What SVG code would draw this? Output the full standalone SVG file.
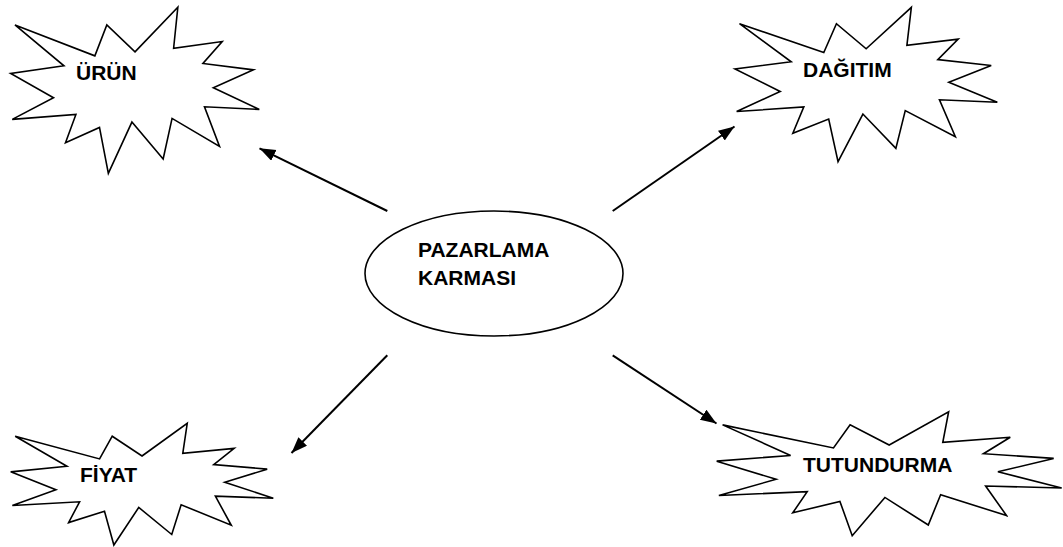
<svg xmlns="http://www.w3.org/2000/svg" width="1063" height="547" viewBox="0 0 1063 547">
<style>
.seal{fill:#fff;stroke:#000;stroke-width:1.6;stroke-linejoin:miter;vector-effect:non-scaling-stroke}
.ell{fill:#fff;stroke:#000;stroke-width:1.6}
.lbl{font-family:"Liberation Sans",Arial,sans-serif;font-weight:bold;font-size:21px;fill:#000}
.conn{stroke:#000;stroke-width:2;fill:none;marker-end:url(#arr)}
</style>
<defs>
<marker id="arr" markerUnits="userSpaceOnUse" markerWidth="17" markerHeight="13" refX="16" refY="6" orient="auto">
<path d="M0,0 L16,6 L0,12 z" fill="#000"/>
</marker>
</defs>
<rect width="1063" height="547" fill="#fff"/>
<g id="urun">
<polygon class="seal" transform="translate(10.7,7.3) scale(0.011509,0.0076852)" points="10800,5800 14522,0 14155,5325 18380,4457 16702,7315 21097,8137 17607,10475 21600,13290 16837,12942 18145,18095 14020,14457 13247,19737 10532,14935 8485,21600 7715,15627 4762,17617 5667,13937 135,14587 3722,11775 0,8615 4627,7617 370,2295 7312,6320 8352,2295"/>
<text class="lbl" x="76" y="80">ÜRÜN</text>
</g>
<g id="dagitim">
<polygon class="seal" transform="translate(735,7.3) scale(0.012144,0.0071481)" points="10800,5800 14522,0 14155,5325 18380,4457 16702,7315 21097,8137 17607,10475 21600,13290 16837,12942 18145,18095 14020,14457 13247,19737 10532,14935 8485,21600 7715,15627 4762,17617 5667,13937 135,14587 3722,11775 0,8615 4627,7617 370,2295 7312,6320 8352,2295"/>
<text class="lbl" x="803" y="77">DAĞITIM</text>
</g>
<g id="fiyat">
<polygon class="seal" transform="translate(10.7,423.3) scale(0.012157,0.0056343)" points="10800,5800 14522,0 14155,5325 18380,4457 16702,7315 21097,8137 17607,10475 21600,13290 16837,12942 18145,18095 14020,14457 13247,19737 10532,14935 8485,21600 7715,15627 4762,17617 5667,13937 135,14587 3722,11775 0,8615 4627,7617 370,2295 7312,6320 8352,2295"/>
<text class="lbl" x="80" y="482">FİYAT</text>
</g>
<g id="tutundurma">
<polygon class="seal" transform="translate(716.7,411.7) scale(0.015972,0.0057407)" points="10800,5800 14522,0 14155,5325 18380,4457 16702,7315 21097,8137 17607,10475 21600,13290 16837,12942 18145,18095 14020,14457 13247,19737 10532,14935 8485,21600 7715,15627 4762,17617 5667,13937 135,14587 3722,11775 0,8615 4627,7617 370,2295 7312,6320 8352,2295"/>
<text class="lbl" x="803" y="472">TUTUNDURMA</text>
</g>
<g id="pazarlama">
<ellipse class="ell" cx="494" cy="273.5" rx="129" ry="62.5"/>
<text class="lbl" x="418" y="257">PAZARLAMA</text>
<text class="lbl" x="418" y="285">KARMASI</text>
</g>
<g id="connectors">
<line class="conn" x1="387.3" y1="211" x2="259.5" y2="148.3"/>
<line class="conn" x1="612.7" y1="211" x2="734.5" y2="126.5"/>
<line class="conn" x1="387.3" y1="355.3" x2="291.5" y2="453"/>
<line class="conn" x1="612.7" y1="355.3" x2="716.5" y2="423.5"/>
</g>
</svg>
